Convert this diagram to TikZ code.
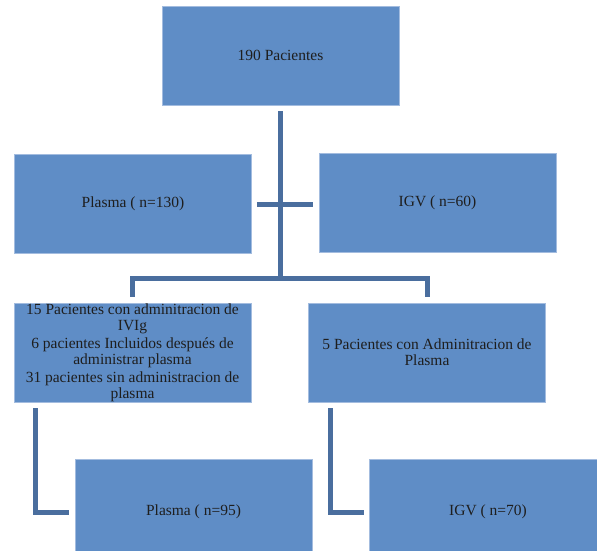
\documentclass[tikz,border=0pt]{standalone}
\usepackage{fontspec}
\setmainfont{Liberation Serif}
\usepackage{xcolor}
\usepackage{tikz}
\usetikzlibrary{calc}
\definecolor{boxblue}{HTML}{5F8DC6}
\definecolor{edgeblue}{HTML}{A3BCDF}
\definecolor{linkblue}{HTML}{4A6E9E}
\definecolor{ink}{HTML}{1E1E1E}

\begin{document}
\begin{tikzpicture}[x=1pt,y=-1pt,every node/.style={font=\fontsize{15.5}{16}\selectfont,text=ink,align=center},box/.style={draw=edgeblue,line width=0.8pt,fill=boxblue,inner sep=0pt,minimum width=237pt,minimum height=99pt},conn/.style={draw=linkblue,line width=5pt}]
  \useasboundingbox (0,0) rectangle (597,551);
  \clip (0,0) rectangle (597,551);

  % Top level
  \node[box] (top) at (280.5,55.5) {190 Pacientes};

  % First split
  \node[box] (p130) at (133,204) {Plasma ( n=130)};
  \node[box] (i60) at (437.5,202.5) {IGV ( n=60)};
  \coordinate (split) at (280.5,278);
  \draw[conn,shorten <=6pt] (top) -- (split);
  \draw[conn,shorten <=5pt,shorten >=6pt] (p130.east) -- (p130.east -| i60.west);

  % Second level
  \node[box] (grpA) at (132.5,352.5) {15 Pacientes con adminitracion de\\IVIg\\[2pt]6 pacientes Incluidos despu\'es de\\administrar plasma\\[2pt]31 pacientes sin administracion de\\plasma};
  \node[box] (grpB) at (427,352.5) {5 Pacientes con Adminitracion de\\Plasma};
  \draw[conn,shorten <=6pt,shorten >=6pt] (grpA.north) |- (split) -| (grpB.north);

  % Final groups
  \node[box,minimum height=106pt] (p95) at (193.5,512) {Plasma ( n=95)};
  \node[box,minimum height=106pt] (i70) at (488,512) {IGV ( n=70)};
  \draw[conn,shorten <=6pt,shorten >=6pt] ([xshift=22pt]grpA.south west) |- (p95.west);
  \draw[conn,shorten <=6pt,shorten >=5pt] ([xshift=22pt]grpB.south west) |- (i70.west);
\end{tikzpicture}
\end{document}
